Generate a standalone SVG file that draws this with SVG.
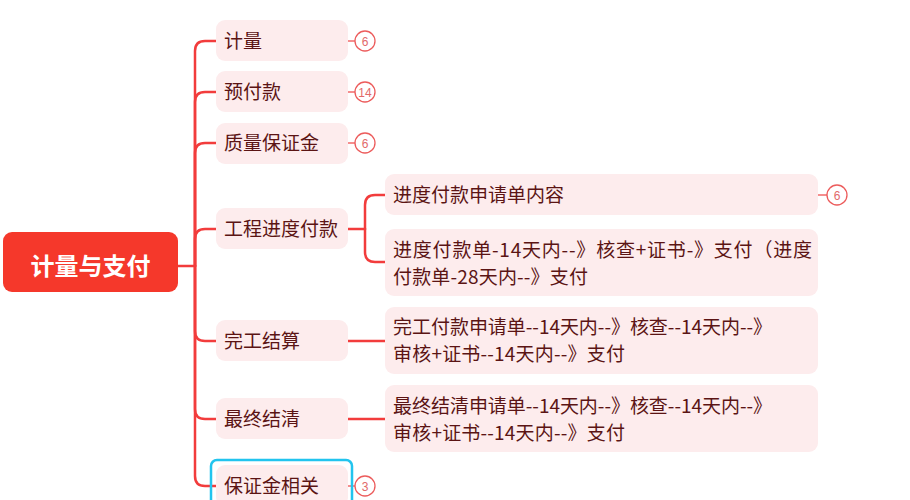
<svg xmlns="http://www.w3.org/2000/svg" width="910" height="500" viewBox="0 0 910 500">
<defs>
<style>
.ln{fill:none;stroke:#f23c3c;stroke-width:2.5;stroke-linecap:round}
.bl{fill:none;stroke:#f26a6a;stroke-width:1.5}
.nd{fill:#fdeced}
.t{font-family:"Noto Sans CJK SC","Noto Sans",sans-serif;font-size:19px;fill:#5b1414}
.t2{font-family:"Noto Sans CJK SC","Noto Sans",sans-serif;font-size:19px;fill:#5b1414}
.bc{fill:#fff;stroke:#ec5c5c;stroke-width:1.3}
.bt{font-family:"Liberation Sans","Noto Sans",sans-serif;font-size:12px;fill:#e26a6a;text-anchor:middle}
</style>
</defs>
<rect width="910" height="500" fill="#fff"/>
<g id="connectors">
<path class="ln" d="M178,266 H195"/>
<path class="ln" d="M195,266 V51 Q195,41 205,41 H216"/>
<path class="ln" d="M195,266 V102 Q195,92 205,92 H216"/>
<path class="ln" d="M195,266 V153 Q195,143 205,143 H216"/>
<path class="ln" d="M195,266 V239 Q195,229 205,229 H216"/>
<path class="ln" d="M195,266 V331 Q195,341 205,341 H216"/>
<path class="ln" d="M195,266 V409 Q195,419 205,419 H216"/>
<path class="ln" d="M195,266 V476 Q195,486 205,486 H216"/>
<path class="ln" d="M347,229 H365"/>
<path class="ln" d="M365,229 V205 Q365,195 375,195 H385"/>
<path class="ln" d="M365,229 V252 Q365,262 375,262 H385"/>
<path class="ln" d="M347,341 H385"/>
<path class="ln" d="M347,419 H385"/>
<path class="bl" d="M348,41 H355 M348,92 H355 M348,143 H355 M818,195 H827 M348,486 H355"/>
</g>
<g id="root">
<rect x="3" y="232" width="175" height="60" rx="9" fill="#f5382b"/>
<text x="90.5" y="275" font-family="Noto Sans CJK SC,Noto Sans,sans-serif" font-size="24" font-weight="bold" fill="#fff" text-anchor="middle">计量与支付</text>
</g>
<g id="n-jiliang">
<rect class="nd" x="216" y="20" width="132" height="41" rx="9"/>
<text class="t" x="224" y="48">计量</text>
<circle class="bc" cx="365" cy="41" r="10"/><text class="bt" x="365" y="45.5">6</text>
</g>
<g id="n-yufukuan">
<rect class="nd" x="216" y="71" width="132" height="41" rx="9"/>
<text class="t" x="224" y="99">预付款</text>
<circle class="bc" cx="365" cy="92" r="10"/><text class="bt" x="365" y="96.5">14</text>
</g>
<g id="n-zhiliang">
<rect class="nd" x="216" y="123" width="132" height="41" rx="9"/>
<text class="t" x="224" y="150">质量保证金</text>
<circle class="bc" cx="365" cy="143" r="10"/><text class="bt" x="365" y="147.5">6</text>
</g>
<g id="n-jindu">
<rect class="nd" x="216" y="208" width="132" height="41" rx="9"/>
<text class="t" x="224" y="236">工程进度付款</text>
</g>
<g id="n-wangong">
<rect class="nd" x="216" y="320" width="132" height="41" rx="9"/>
<text class="t" x="224" y="348">完工结算</text>
</g>
<g id="n-zuizhong">
<rect class="nd" x="216" y="398" width="132" height="41" rx="9"/>
<text class="t" x="224" y="426">最终结清</text>
</g>
<g id="n-baozhengjin">
<rect x="211" y="460" width="141" height="50" rx="6" fill="none" stroke="#22c4ee" stroke-width="2.5"/>
<rect class="nd" x="216" y="465" width="132" height="41" rx="9"/>
<text class="t" x="224" y="493">保证金相关</text>
<circle class="bc" cx="365" cy="486" r="10"/><text class="bt" x="365" y="490.5">3</text>
</g>
<g id="n-shenqing">
<rect class="nd" x="385" y="174" width="433" height="41" rx="9"/>
<text class="t2" x="393" y="202">进度付款申请单内容</text>
<circle class="bc" cx="837" cy="195" r="10"/><text class="bt" x="837" y="199.5">6</text>
</g>
<g id="n-jindudan">
<rect class="nd" x="385" y="229" width="433" height="67" rx="9"/>
<text class="t2" x="393" y="257" textLength="419" lengthAdjust="spacing">进度付款单-14天内--》核查+证书-》支付（进度</text>
<text class="t2" x="393" y="284" textLength="195" lengthAdjust="spacing">付款单-28天内--》支付</text>
</g>
<g id="n-wangongfk">
<rect class="nd" x="385" y="307" width="433" height="67" rx="9"/>
<text class="t2" x="393" y="334" textLength="379" lengthAdjust="spacing">完工付款申请单--14天内--》核查--14天内--》</text>
<text class="t2" x="393" y="361" textLength="232" lengthAdjust="spacing">审核+证书--14天内--》支付</text>
</g>
<g id="n-zuizhongsq">
<rect class="nd" x="385" y="385" width="433" height="67" rx="9"/>
<text class="t2" x="393" y="413" textLength="379" lengthAdjust="spacing">最终结清申请单--14天内--》核查--14天内--》</text>
<text class="t2" x="393" y="440" textLength="232" lengthAdjust="spacing">审核+证书--14天内--》支付</text>
</g>
</svg>
